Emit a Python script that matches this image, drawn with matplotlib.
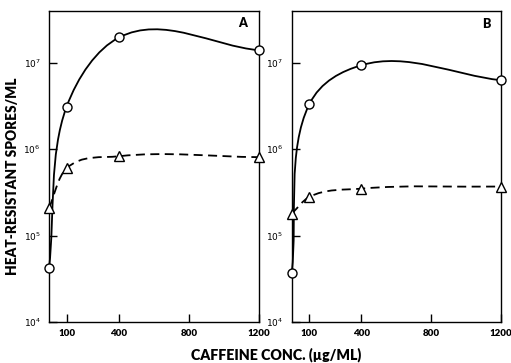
import numpy as np
import matplotlib
matplotlib.use("Agg")
import matplotlib.pyplot as plt
from matplotlib.path import Path
from matplotlib.patches import PathPatch
from matplotlib.ticker import FixedLocator, FixedFormatter, NullLocator

# =========================================
# DATA
# =========================================
caffeine = [0, 100, 400, 1200]

# panel A
a_circles = [4.2e4, 3.1e6, 1.97e7, 1.4e7]
a_triangles = [2.1e5, 6.0e5, 8.3e5, 8.1e5]

# panel B
b_circles = [3.7e4, 3.3e6, 9.4e6, 6.3e6]
b_triangles = [1.8e5, 2.8e5, 3.5e5, 3.7e5]

x_ticks = [100, 400, 800, 1200]
x_tick_labels = ["100", "400", "800", "1200"]
y_ticks = [1e4, 1e5, 1e6, 1e7]
y_tick_labels = [r"$10^4$", r"$10^5$", r"$10^6$", r"$10^7$"]

FONT = "Lato"
plt.rcParams["font.family"] = [FONT, "DejaVu Sans"]


# =========================================
# SMOOTH CURVE (bezier through the points, in axes space)
# =========================================
def smooth_curve(ax, xs, ys, ls):
    to_axes = ax.transScale + ax.transLimits
    pts = to_axes.transform(np.column_stack([xs, ys]))
    n = len(pts)

    seg = [pts[i + 1] - pts[i] for i in range(n - 1)]
    unit = [s / np.hypot(*s) for s in seg]

    dirs = []
    for i in range(n):
        if i == 0:
            d = unit[0]
        elif i == n - 1:
            d = unit[-1]
        else:
            d = unit[i - 1] + unit[i]
        dirs.append(d / np.hypot(*d))

    verts = [pts[0]]
    codes = [Path.MOVETO]
    for i in range(n - 1):
        L = np.hypot(*seg[i]) / 3
        verts += [pts[i] + dirs[i] * L, pts[i + 1] - dirs[i + 1] * L, pts[i + 1]]
        codes += [Path.CURVE4] * 3

    patch = PathPatch(Path(verts, codes), transform=ax.transAxes,
                      fill=False, lw=1.3, ls=ls, color="black",
                      clip_on=False)
    ax.add_patch(patch)


# =========================================
# PANEL
# =========================================
def draw_panel(ax, circles, triangles, letter, lx, ly):

    ax.set_yscale("log")
    ax.set_xlim(0, 1200)
    ax.set_ylim(1e4, 4e7)

    smooth_curve(ax, caffeine, circles, "-")
    smooth_curve(ax, caffeine, triangles, (0, (5, 3)))

    ax.plot(caffeine, circles, ls="none", marker="o", ms=6.5,
            mfc="white", mec="black", mew=1.0, clip_on=False, zorder=5)
    ax.plot(caffeine, triangles, ls="none", marker="^", ms=6.5,
            mfc="white", mec="black", mew=1.0, clip_on=False, zorder=5)

    ax.xaxis.set_major_locator(FixedLocator(x_ticks))
    ax.xaxis.set_major_formatter(FixedFormatter(x_tick_labels))
    ax.yaxis.set_major_locator(FixedLocator(y_ticks))
    ax.yaxis.set_major_formatter(FixedFormatter(y_tick_labels))
    ax.yaxis.set_minor_locator(NullLocator())

    ax.tick_params(axis="both", direction="in", length=6, width=1.0,
                   labelsize=7)
    ax.tick_params(axis="x", pad=5)
    ax.tick_params(axis="y", pad=6, labelsize=6.5)
    for lab in ax.get_xticklabels():
        lab.set_fontweight("heavy")

    for s in ax.spines.values():
        s.set_linewidth(1.0)

    ax.text(lx, ly, letter, transform=ax.transAxes, ha="center",
            va="center", fontsize=9, fontweight="heavy")


# =========================================
# MAIN
# =========================================
fig = plt.figure(figsize=(5.11, 3.63), dpi=100)

ax_a = fig.add_axes([0.096, 0.113, 0.411, 0.857])
ax_b = fig.add_axes([0.571, 0.113, 0.409, 0.857])

draw_panel(ax_a, a_circles, a_triangles, "A", 0.92, 0.962)
draw_panel(ax_b, b_circles, b_triangles, "B", 0.93, 0.958)

fig.text(0.024, 0.515, "HEAT-RESISTANT SPORES/ML", rotation=90,
         ha="center", va="center", fontsize=9.8, fontweight="heavy")
fig.text(0.54, 0.022, "CAFFEINE CONC. (\u00b5g/ML)", ha="center",
         va="center", fontsize=10.2, fontweight="heavy")

fig.savefig("out.png", dpi=100)
